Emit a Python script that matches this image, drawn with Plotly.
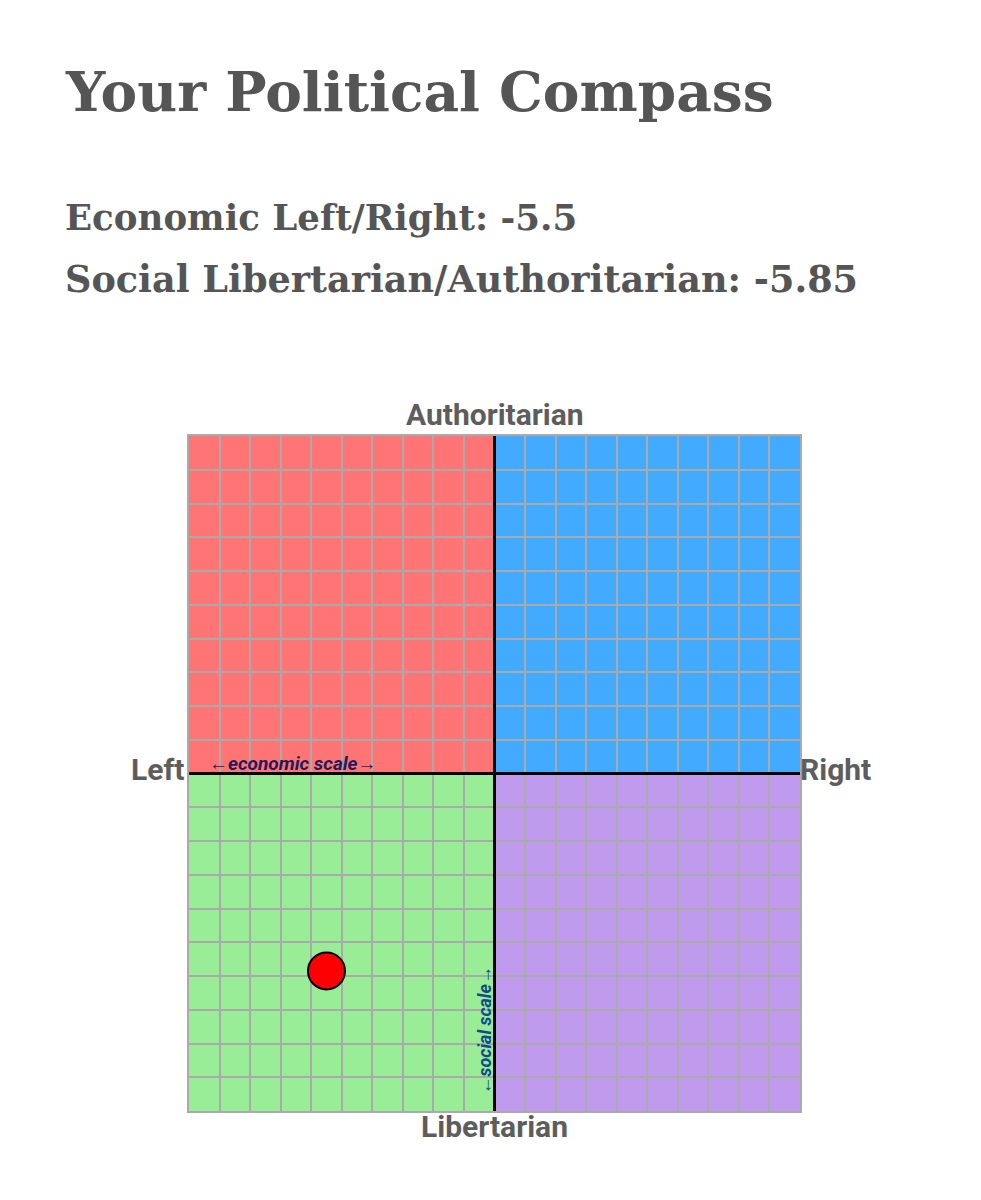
import plotly.graph_objects as go

economic = [-5.5]
social = [-5.85]
title_text = "Your Political Compass"
score_lines = ["Economic Left/Right: -5.5", "Social Libertarian/Authoritarian: -5.85"]
axis_labels = {"top": "Authoritarian", "bottom": "Libertarian", "left": "Left", "right": "Right"}
quadrants = [
    (-10, 0, 0, 10, "#FF7575"),
    (0, 10, 0, 10, "#42AAFF"),
    (-10, 0, -10, 0, "#9AED97"),
    (0, 10, -10, 0, "#C09AEC"),
]

fig = go.Figure()
fig.add_trace(go.Scatter(
    x=economic, y=social, mode="markers",
    marker=dict(size=37, color="#FF0000", line=dict(color="black", width=2)),
    showlegend=False, hoverinfo="skip"))

for x0, x1, y0, y1, c in quadrants:
    fig.add_shape(type="rect", x0=x0, x1=x1, y0=y0, y1=y1, fillcolor=c,
                  line=dict(width=0), layer="below")

axis_common = dict(range=[-10, 10], dtick=1, tick0=0, showticklabels=False, ticks="",
                   showgrid=True, gridcolor="#AAAAAA", gridwidth=1.5,
                   zeroline=True, zerolinecolor="black", zerolinewidth=3,
                   showline=True, mirror=True, linecolor="#AAAAAA", linewidth=1.5,
                   fixedrange=True)
fig.update_xaxes(**axis_common)
fig.update_yaxes(**axis_common)

gray = "#555555"
lab = "#5D5D5D"
serif = "DejaVu Serif"
xl = -0.2062
anns = [
    dict(text=f"<b>{title_text}</b>", x=xl, y=1.511, xanchor="left", yanchor="middle",
         font=dict(family=serif, size=55, color=gray)),
    dict(text=f"<b>{score_lines[0]}</b>", x=xl, y=1.323, xanchor="left", yanchor="middle",
         font=dict(family=serif, size=35.6, color=gray)),
    dict(text=f"<b>{score_lines[1]}</b>", x=xl, y=1.232, xanchor="left", yanchor="middle",
         font=dict(family=serif, size=36.6, color=gray)),
    dict(text=f"<b>{axis_labels['top']}</b>", x=0.5, y=1.0, yshift=22, xanchor="center", yanchor="middle",
         font=dict(family="Roboto", size=30, color=lab)),
    dict(text=f"<b>{axis_labels['bottom']}</b>", x=0.5, y=0.0, yshift=-15, xanchor="center", yanchor="middle",
         font=dict(family="Roboto", size=30, color=lab)),
    dict(text=f"<b>{axis_labels['left']}</b>", x=0.0, y=0.5, xshift=-3, yshift=4, xanchor="right", yanchor="middle",
         font=dict(family="Roboto", size=30, color=lab)),
    dict(text=f"<b>{axis_labels['right']}</b>", x=1.0, y=0.5, xshift=-2, yshift=4, xanchor="left", yanchor="middle",
         font=dict(family="Roboto", size=30, color=lab)),
    dict(text="<b><i>←economic scale→</i></b>", x=0.0, y=0.5, xshift=18, yshift=10, xanchor="left", yanchor="middle",
         font=dict(family="Roboto", size=19, color="#1E1A5C")),
    dict(text="<b><i>←social scale→</i></b>", x=0.5, y=0.0, xshift=-11, yshift=80, textangle=-90,
         xanchor="center", yanchor="middle",
         font=dict(family="Roboto", size=18, color="#104A8A")),
]
for a in anns:
    a.update(xref="paper", yref="paper", showarrow=False)
    fig.add_annotation(**a)

fig.update_layout(
    width=973, height=1192,
    margin=dict(l=181, r=181, t=428, b=89),
    paper_bgcolor="white", plot_bgcolor="white",
)
fig.write_html("out.html")
